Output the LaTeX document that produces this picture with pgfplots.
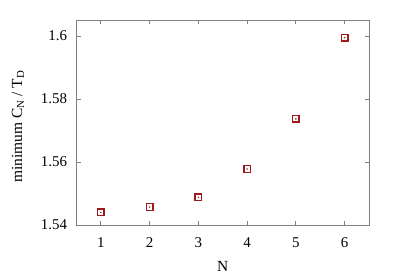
\documentclass[border=0pt]{standalone}
\usepackage{fontspec}
\setmainfont{Liberation Serif}
\usepackage{pgfplots}
\pgfplotsset{compat=1.18}
\definecolor{mk}{HTML}{A01818}
\definecolor{ax}{HTML}{808080}
\begin{document}
\begin{tikzpicture}
\begin{axis}[
  scale only axis, width=292.5bp, height=205bp,
  xmin=0.5, xmax=6.5, ymin=1.54, ymax=1.6051,
  xtick={1,2,3,4,5,6},
  ytick={1.54,1.56,1.58,1.6},
  yticklabels={1.54,1.56,1.58,1.6},
  /pgf/number format/assume math mode=true,
  tick align=inside,
  major tick length=4bp,
  axis line style={ax, line width=1bp},
  tick style={ax, line width=0.8bp},
  every tick label/.append style={font=\fontsize{15}{17}\selectfont, text=black},
  xticklabel style={anchor=center, yshift=-18bp},
  yticklabel style={anchor=east, xshift=-6bp},
  xlabel={N}, ylabel={minimum C$_{\mathrm{N}}$ / T$_{\mathrm{D}}$},
  label style={font=\fontsize{15.5}{17}\selectfont},
  xlabel style={at={(axis description cs:0.5,-0.2)}, anchor=center},
  ylabel style={at={(axis description cs:-0.2,0.48)}, anchor=center},
]
\addplot[only marks, mark=square, mark size=3.3bp, mark options={mk, line width=1.4bp}] coordinates {
(1,1.5440) (2,1.5457) (3,1.5488) (4,1.5578) (5,1.5737) (6,1.5995)};
\addplot[only marks, mark=*, mark size=0.5bp, mark options={mk}] coordinates {
(1,1.5440) (2,1.5457) (3,1.5488) (4,1.5578) (5,1.5737) (6,1.5995)};
\end{axis}
\useasboundingbox ([xshift=-76.5bp,yshift=-54bp]current axis.south west) rectangle ([xshift=30bp,yshift=20bp]current axis.north east);
\end{tikzpicture}
\end{document}
